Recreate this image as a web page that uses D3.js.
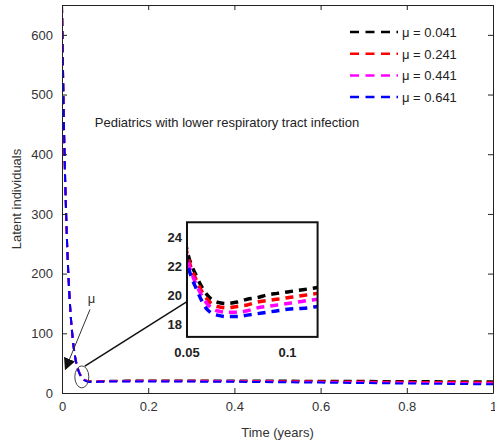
<!DOCTYPE html>
<html>
<head>
<meta charset="utf-8">
<script src="https://cdn.jsdelivr.net/npm/d3@7"></script>
<style>
  body { margin: 0; background: #fff; }
  svg text { font-family: "Liberation Sans", Arial, sans-serif; fill: #333; }
</style>
</head>
<body>
<div id="chart"></div>
<script>
// time points (years)
var timeVals = [0, 0.005, 0.01, 0.015, 0.02, 0.025, 0.03, 0.035, 0.04, 0.045,
  0.05, 0.055, 0.06, 0.065, 0.07, 0.075, 0.08, 0.085, 0.09, 0.095,
  0.1, 0.105, 0.11, 0.115, 0.12, 0.2, 0.3, 0.4, 0.5, 0.6, 0.7, 0.8, 0.9, 1.0];

// latent individuals for each mu
var latent041 = [650, 430, 290, 195, 132, 90, 62, 45, 34.5, 27.5,
  23.1, 21.2, 20.0, 19.5, 19.4, 19.5, 19.7, 19.8, 20.0, 20.1,
  20.2, 20.3, 20.4, 20.5, 20.6, 20.9, 21.0, 21.0, 20.8, 20.6, 20.4, 20.1, 19.8, 19.5];
var latent241 = [650, 430, 290, 195, 132, 90, 62, 45, 34.2, 27.2,
  22.9, 20.9, 19.7, 19.2, 19.1, 19.2, 19.3, 19.5, 19.6, 19.7,
  19.8, 19.9, 20.0, 20.1, 20.2, 20.4, 20.4, 20.2, 19.9, 19.5, 19.1, 18.7, 18.3, 17.9];
var latent441 = [650, 430, 290, 195, 132, 90, 62, 45, 33.9, 27.0,
  22.6, 20.6, 19.4, 18.9, 18.8, 18.8, 18.9, 19.1, 19.2, 19.3,
  19.4, 19.5, 19.6, 19.7, 19.8, 19.9, 19.8, 19.5, 19.0, 18.5, 17.9, 17.3, 16.8, 16.2];
var latent641 = [650, 430, 290, 195, 132, 90, 62, 45, 33.5, 26.6,
  22.3, 20.3, 19.0, 18.6, 18.5, 18.5, 18.6, 18.7, 18.8, 18.9,
  19.0, 19.05, 19.1, 19.2, 19.3, 19.3, 19.1, 18.7, 18.1, 17.4, 16.7, 15.9, 15.2, 14.5];

var seriesNames = ["\u03bc = 0.041", "\u03bc = 0.241", "\u03bc = 0.441", "\u03bc = 0.641"];
var seriesColors = ["#000000", "#ff0000", "#ff00ff", "#0000ff"];
var seriesData = [latent041, latent241, latent441, latent641];

var xTicks = [0, 0.2, 0.4, 0.6, 0.8, 1];
var yTicks = [0, 100, 200, 300, 400, 500, 600];
var insetXTicks = [0.05, 0.1];
var insetYTicks = [18, 20, 22, 24];

var width = 495, height = 447;
var plotLeft = 62, plotTop = 5, plotRight = 493, plotBottom = 393;

var svg = d3.select("#chart").append("svg")
  .attr("width", width).attr("height", height);
var defs = svg.append("defs");

var x = d3.scaleLinear().domain([0, 1]).range([plotLeft, plotRight]);
var y = d3.scaleLinear().domain([0, 650]).range([plotBottom, plotTop]);

defs.append("clipPath").attr("id", "mainClip")
  .append("rect").attr("x", plotLeft).attr("y", plotTop)
  .attr("width", plotRight - plotLeft).attr("height", plotBottom - plotTop);

//main curves
var line = d3.line()
  .x(function(d, i) { return x(timeVals[i]); })
  .y(function(d) { return y(d); })
  .curve(d3.curveMonotoneX);

var curves = svg.append("g").attr("clip-path", "url(#mainClip)");
seriesData.forEach(function(s, k) {
  curves.append("path")
    .attr("d", line(s))
    .attr("fill", "none")
    .attr("stroke", seriesColors[k])
    .attr("stroke-width", 2)
    .attr("stroke-dasharray", "8,5");
});

//axes with inward ticks (matlab style)
svg.append("g").attr("transform", "translate(0," + plotBottom + ")")
  .call(d3.axisBottom(x).tickValues(xTicks).tickSizeInner(-5).tickSizeOuter(0).tickPadding(9)
    .tickFormat(function(d) { return d3.format("~g")(d); }));
svg.append("g").attr("transform", "translate(0," + plotTop + ")")
  .call(d3.axisTop(x).tickValues(xTicks).tickSizeInner(-5).tickSizeOuter(0).tickFormat(""));
svg.append("g").attr("transform", "translate(" + plotLeft + ",0)")
  .call(d3.axisLeft(y).tickValues(yTicks).tickSizeInner(-5).tickSizeOuter(0).tickPadding(9));
svg.append("g").attr("transform", "translate(" + plotRight + ",0)")
  .call(d3.axisRight(y).tickValues(yTicks).tickSizeInner(-5).tickSizeOuter(0).tickFormat(""));

svg.selectAll(".domain").attr("stroke", "#222");
svg.selectAll(".tick line").attr("stroke", "#222");
svg.selectAll(".tick text").style("font-size", "13px").style("fill", "#333")
  .style("font-family", "Liberation Sans, Arial, sans-serif");

// axis titles
svg.append("text").attr("x", (plotLeft + plotRight) / 2).attr("y", 437)
  .attr("text-anchor", "middle").style("font-size", "13px").text("Time (years)");
svg.append("text")
  .attr("transform", "translate(21," + ((plotTop + plotBottom) / 2) + ") rotate(-90)")
  .attr("text-anchor", "middle").style("font-size", "13px").text("Latent individuals");

svg.append("text").attr("x", x(0.076)).attr("y", y(445))
  .style("font-size", "13px").style("fill", "#222")
  .text("Pediatrics with lower respiratory tract infection");

//legend
var legend = svg.append("g");
seriesNames.forEach(function(name, k) {
  var ly = 32 + k * 21.7;
  legend.append("line")
    .attr("x1", 350).attr("x2", 398).attr("y1", ly).attr("y2", ly)
    .attr("stroke", seriesColors[k]).attr("stroke-width", 2.5)
    .attr("stroke-dasharray", "9,6.5");
  legend.append("text").attr("x", 402).attr("y", ly + 5)
    .style("font-size", "13px").style("fill", "#222").text(name);
});

// annotation: ellipse, arrow, mu label
defs.append("marker")
  .attr("id", "arrowHead").attr("viewBox", "0 0 10 10")
  .attr("refX", 9).attr("refY", 5)
  .attr("markerWidth", 12).attr("markerHeight", 12)
  .attr("markerUnits", "userSpaceOnUse")
  .attr("orient", "auto")
  .append("path").attr("d", "M0,0 L10,5 L0,10 Z").attr("fill", "#111");

svg.append("ellipse")
  .attr("cx", x(0.046)).attr("cy", y(27))
  .attr("rx", 7).attr("ry", 11)
  .attr("fill", "none").attr("stroke", "#444").attr("stroke-width", 1);

svg.append("line")
  .attr("x1", x(0.065)).attr("y1", y(140))
  .attr("x2", x(0.008)).attr("y2", y(40))
  .attr("stroke", "#333").attr("stroke-width", 1)
  .attr("marker-end", "url(#arrowHead)");

svg.append("text").attr("x", x(0.06)).attr("y", y(150))
  .style("font-size", "13px").style("fill", "#333").text("\u03bc");

// inset box placed in main data coordinates
var ix0 = x(0.29), ix1 = x(0.593), iy0 = y(286), iy1 = y(94);

svg.append("line")
  .attr("x1", x(0.053)).attr("y1", y(45))
  .attr("x2", ix0).attr("y2", y(153))
  .attr("stroke", "#111").attr("stroke-width", 1.5);

var ix = d3.scaleLinear().domain([0.05, 0.115]).range([ix0, ix1]);
var iy = d3.scaleLinear().domain([17.1, 25]).range([iy1, iy0]);

svg.append("rect").attr("x", ix0).attr("y", iy0)
  .attr("width", ix1 - ix0).attr("height", iy1 - iy0)
  .attr("fill", "#fff");

defs.append("clipPath").attr("id", "insetClip")
  .append("rect").attr("x", ix0).attr("y", iy0)
  .attr("width", ix1 - ix0).attr("height", iy1 - iy0);

var insetLine = d3.line()
  .defined(function(d, i) { return timeVals[i] >= 0.045 && timeVals[i] <= 0.12; })
  .x(function(d, i) { return ix(timeVals[i]); })
  .y(function(d) { return iy(d); })
  .curve(d3.curveMonotoneX);

var insetCurves = svg.append("g").attr("clip-path", "url(#insetClip)");
seriesData.forEach(function(s, k) {
  insetCurves.append("path")
    .attr("d", insetLine(s))
    .attr("fill", "none")
    .attr("stroke", seriesColors[k])
    .attr("stroke-width", 3.5)
    .attr("stroke-dasharray", "8,6");
});

svg.append("rect").attr("x", ix0).attr("y", iy0)
  .attr("width", ix1 - ix0).attr("height", iy1 - iy0)
  .attr("fill", "none").attr("stroke", "#111").attr("stroke-width", 2);

svg.selectAll(".insetY").data(insetYTicks).enter().append("text")
  .attr("x", ix0 - 5).attr("y", function(d) { return iy(d) + 5; })
  .attr("text-anchor", "end")
  .style("font-size", "13px").style("font-weight", "bold").style("fill", "#222")
  .text(function(d) { return d; });

svg.selectAll(".insetX").data(insetXTicks).enter().append("text")
  .attr("x", function(d) { return ix(d); }).attr("y", iy1 + 20)
  .attr("text-anchor", "middle")
  .style("font-size", "13px").style("font-weight", "bold").style("fill", "#222")
  .text(function(d) { return d; });
</script>
</body>
</html>
